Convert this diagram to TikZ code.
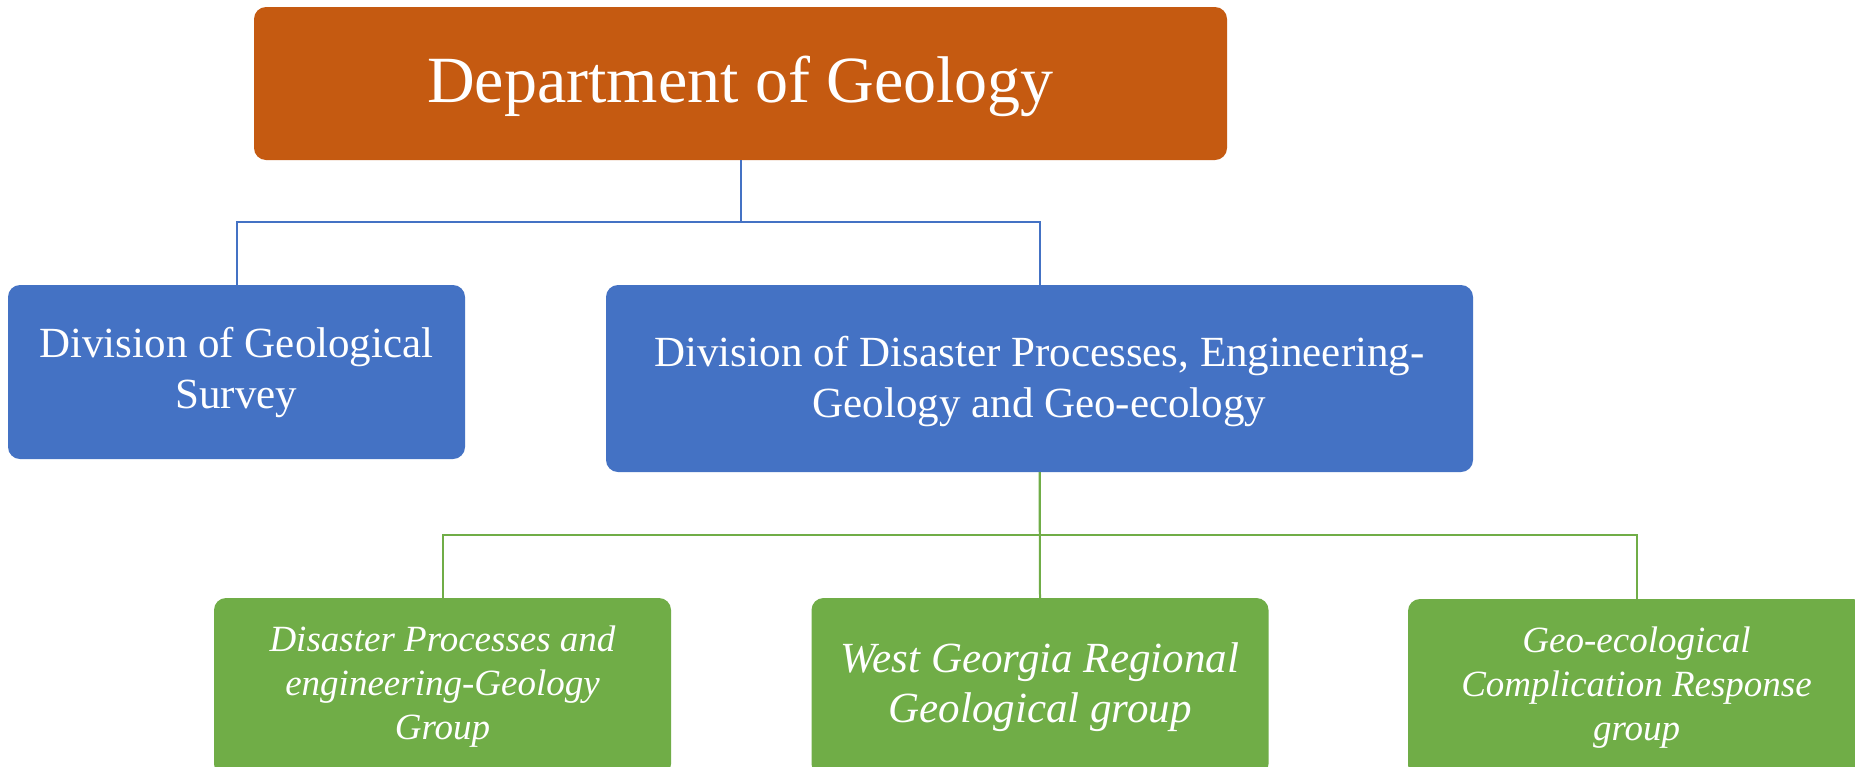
\documentclass[tikz,border=0pt]{standalone}
\usepackage{fontspec}
\setmainfont{Liberation Serif}
\definecolor{orgfill}{HTML}{C55A11}
\definecolor{bluefill}{HTML}{4472C4}
\definecolor{greenfill}{HTML}{70AD47}
\tikzset{
  box/.style={rounded corners=12pt, inner sep=0pt, text=white, align=center},
  topbox/.style={box, fill=orgfill, minimum width=973pt, minimum height=153pt,
    font=\fontsize{66}{76}\selectfont},
  divbox/.style={box, fill=bluefill, minimum height=174pt,
    font=\fontsize{43}{51}\selectfont},
  grpbox/.style={box, fill=greenfill, minimum width=457pt, minimum height=178pt,
    font=\fontsize{37}{44}\selectfont\itshape},
  bl/.style={draw=bluefill, line width=2pt},
  gl/.style={draw=greenfill, line width=2pt}
}
\begin{document}
\begin{tikzpicture}[x=1pt,y=-1pt]
\clip (0,0) rectangle (1855,766);
\fill[white] (0,0) rectangle (1855,766);
\node[topbox] (top) at (740.5,83.5) {\rule{0pt}{53pt}Department of Geology};
\node[divbox, minimum width=457pt] (div1) at (236.5,372) {Division of Geological\\Survey};
\node[divbox, minimum width=867pt, minimum height=187pt] (div2) at (1039.5,378.5) {\rule{0pt}{37pt}Division of Disaster Processes, Engineering-\\Geology and Geo-ecology};
\node[grpbox] (g1) at (442.5,687) {Disaster Processes and\\engineering-Geology\\Group};
\node[grpbox, font=\fontsize{43}{50}\selectfont\itshape] (g2) at (1040,687) {West Georgia Regional\\Geological group};
\node[grpbox] (g3) at (1636.5,688) {Geo-ecological\\Complication Response\\group};
\draw[bl] (top.south) -- ++(0,62) -| (div1.north);
\draw[bl] (top.south) -- ++(0,62) -| (div2.north);
\draw[gl] (div2.south) -- ++(0,63) -| (g1.north);
\draw[gl] (div2.south) -- (g2.north);
\draw[gl] (div2.south) -- ++(0,63) -| (g3.north);
\end{tikzpicture}
\end{document}
